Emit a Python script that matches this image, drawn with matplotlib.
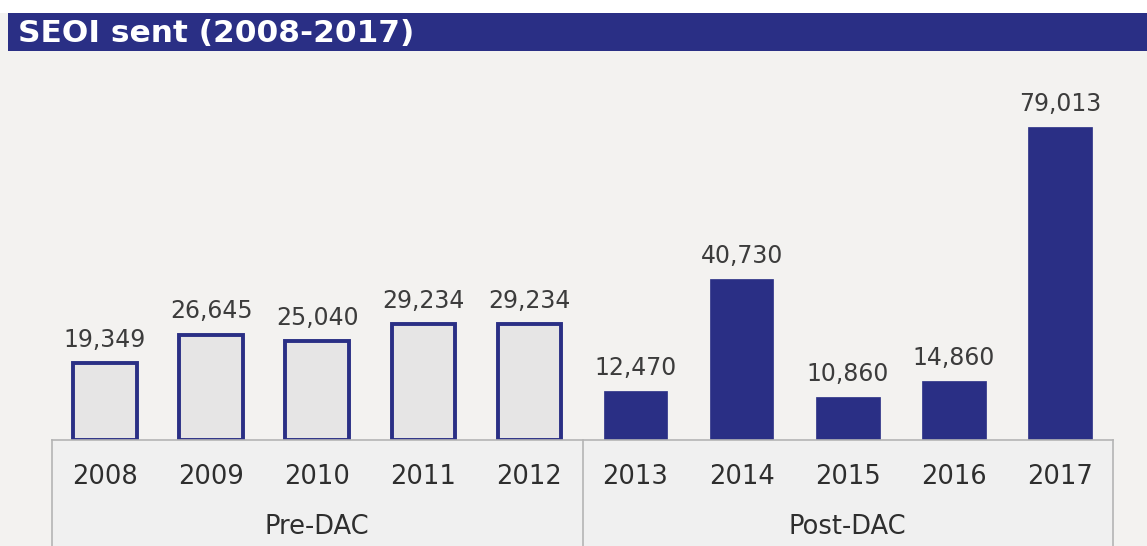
import matplotlib
matplotlib.use("Agg")
import matplotlib.pyplot as plt
from matplotlib.patches import Rectangle
from matplotlib.lines import Line2D

# data
years = ["2008", "2009", "2010", "2011", "2012",
         "2013", "2014", "2015", "2016", "2017"]
sent = [19349, 26645, 25040, 29234, 29234,
        12470, 40730, 10860, 14860, 79013]
value_labels = ["19,349", "26,645", "25,040", "29,234", "29,234",
                "12,470", "40,730", "10,860", "14,860", "79,013"]
groups = ["Pre-DAC", "Post-DAC"]
group_sizes = [5, 5]

navy = "#2a2f85"
W, H = 1147, 546

fig = plt.figure(figsize=(W / 100, H / 100), dpi=100)
fig.patch.set_facecolor("#f3f2f0")

# white strip above the title bar, then the title bar
fig.add_artist(Rectangle((0, 1 - 13 / H), 1, 13 / H, transform=fig.transFigure,
                         facecolor="white", edgecolor="none"))
fig.add_artist(Rectangle((8 / W, 1 - 51 / H), 1 - 8 / W, 38 / H, transform=fig.transFigure,
                         facecolor=navy, edgecolor="none"))
fig.text(18 / W, 1 - 33 / H, "SEOI sent (2008-2017)", color="white",
         fontsize=22.5, fontweight="bold", va="center", ha="left")

# axes placed so that the box below matches the picture
left, right = 52 / W, 1113 / W
bottom, top = (H - 440) / H, (H - 60) / H
ax = fig.add_axes([left, bottom, right - left, top - bottom])
ax.set_facecolor("none")
ax.set_xlim(-0.5, 9.5)
ax.set_ylim(0, 96000)

x = list(range(len(years)))
n_pre = group_sizes[0]
ax.bar(x[:n_pre], sent[:n_pre], width=0.6, color="#e6e5e5",
       edgecolor=navy, linewidth=2.8)
ax.bar(x[n_pre:], sent[n_pre:], width=0.6, color=navy, edgecolor=navy, linewidth=0.5)

for xi, v, lab in zip(x, sent, value_labels):
    ax.annotate(lab, (xi, v), xytext=(0, 8), textcoords="offset points",
                ha="center", va="bottom", fontsize=17, color="#3c3c3c")

for s in ax.spines.values():
    s.set_visible(False)
ax.set_yticks([])
ax.set_xticks(x)
ax.set_xticklabels(years, fontsize=18.5, color="#2e2e2e")
ax.tick_params(axis="x", length=0, pad=17)

# grouping box below the bars
box_col = "#b4b4b4"
trans = ax.get_xaxis_transform()
ax.add_patch(Rectangle((-0.5, -0.35), 10, 0.35, transform=trans,
                       facecolor="#f0f0f0", edgecolor="none", clip_on=False, zorder=0))
ax.add_line(Line2D([-0.5, 9.5], [0, 0], transform=trans, color=box_col,
                   linewidth=1.2, clip_on=False, zorder=1))
start = 0
edges = [-0.5]
for size in group_sizes:
    start += size
    edges.append(start - 0.5)
for e in edges:
    ax.add_line(Line2D([e, e], [0, -0.35], transform=trans, color=box_col,
                       linewidth=1.2, clip_on=False))

centers = [(edges[i] + edges[i + 1]) / 2 for i in range(len(groups))]
for c, g in zip(centers, groups):
    ax.text(c, -87 / 380, g, transform=trans, ha="center", va="center",
            fontsize=18.5, color="#2e2e2e")

fig.savefig("out.png", dpi=100, facecolor=fig.get_facecolor())
